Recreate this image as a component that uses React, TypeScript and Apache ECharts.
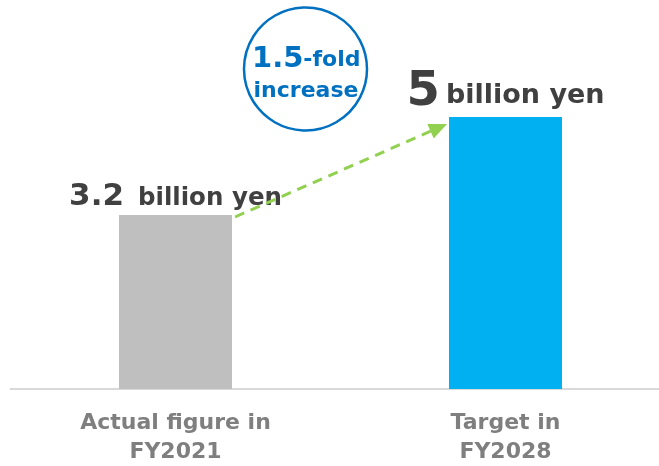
import React, { useEffect, useRef } from "react";
import * as echarts from "echarts";

const categories = ["Actual figure in\nFY2021", "Target in\nFY2028"];
const values = [3.2, 5];
const valueTexts = ["3.2", "5"];
const unitText = "billion yen";
const barColors = ["#bfbfbf", "#00b0f0"];
const badgeLines = ["1.5", "-fold", "increase"];

const FONT = "DejaVu Sans";

export default function App() {
  const ref = useRef<HTMLDivElement>(null);

  useEffect(() => {
    if (!ref.current) return;
    const chart = echarts.init(ref.current, null, { renderer: "svg" });

    // dashed growth arrow geometry
    const start = [235, 217];
    const tip = [447, 124];
    const dx = tip[0] - start[0];
    const dy = tip[1] - start[1];
    const len = Math.hypot(dx, dy);
    const ux = dx / len;
    const uy = dy / len;
    const headLen = 18;
    const headHalf = 8;
    const baseC = [tip[0] - ux * headLen, tip[1] - uy * headLen];
    const px = -uy;
    const py = ux;

    const labelSizes = [
      { a: 31, b: 24.5, pad: 14, dist: 5, lift: 1 },
      { a: 48, b: 27, pad: 6, dist: 5, lift: 5 },
    ];

    chart.setOption({
      animation: false,
      // the canvas runs past the right edge so the baseline reaches the border
      grid: { left: 10.5, width: 660, top: 117, bottom: 77, containLabel: false },
      xAxis: {
        type: "category",
        data: categories,
        axisLine: { show: true, lineStyle: { color: "#d9d9d9", width: 2 } },
        axisTick: { show: false },
        axisLabel: {
          margin: 18,
          color: "#7f7f7f",
          fontFamily: FONT,
          fontWeight: "bold",
          fontSize: 22,
          lineHeight: 29,
          interval: 0,
        },
      },
      yAxis: {
        type: "value",
        min: 0,
        max: 5,
        show: false,
        splitLine: { show: false },
      },
      series: [
        {
          type: "bar",
          barWidth: 113,
          data: values.map((v, i) => ({
            value: v,
            itemStyle: { color: barColors[i] },
            label: {
              show: true,
              position: "top",
              distance: labelSizes[i].dist,
              formatter: `{a|${valueTexts[i]}}{b|${unitText}}`,
              rich: {
                a: {
                  fontFamily: FONT,
                  fontWeight: "bold",
                  fontSize: labelSizes[i].a,
                  color: "#404040",
                  verticalAlign: "bottom",
                },
                b: {
                  fontFamily: FONT,
                  fontWeight: "bold",
                  fontSize: labelSizes[i].b,
                  color: "#404040",
                  verticalAlign: "bottom",
                  padding: [0, 0, labelSizes[i].lift, labelSizes[i].pad],
                },
              },
            },
          })),
        },
      ],
      graphic: [
        {
          type: "circle",
          shape: { cx: 305.5, cy: 69, r: 61.5 },
          style: { fill: "#ffffff", stroke: "#0070c0", lineWidth: 2.5 },
          z: 100,
        },
        {
          type: "text",
          x: 252,
          y: 71,
          style: {
            text: `{a|${badgeLines[0]}}{b|${badgeLines[1]}}`,
            textVerticalAlign: "bottom",
            rich: {
              a: {
                fontFamily: FONT,
                fontWeight: "bold",
                fontSize: 29,
                fill: "#0070c0",
                verticalAlign: "bottom",
              },
              b: {
                fontFamily: FONT,
                fontWeight: "bold",
                fontSize: 22,
                fill: "#0070c0",
                verticalAlign: "bottom",
                padding: [0, 0, 2, 0],
              },
            },
          },
          z: 101,
        },
        {
          type: "text",
          x: 306,
          y: 89,
          style: {
            text: badgeLines[2],
            fontFamily: FONT,
            fontWeight: "bold",
            fontSize: 22,
            fill: "#0070c0",
            textAlign: "center",
            textVerticalAlign: "middle",
          },
          z: 101,
        },
        {
          type: "line",
          shape: { x1: start[0], y1: start[1], x2: baseC[0], y2: baseC[1] },
          style: { stroke: "#92d050", lineWidth: 3, lineDash: [10, 7] },
          z: 100,
        },
        {
          type: "polygon",
          shape: {
            points: [
              tip,
              [baseC[0] + px * headHalf, baseC[1] + py * headHalf],
              [baseC[0] - px * headHalf, baseC[1] - py * headHalf],
            ],
          },
          style: { fill: "#92d050" },
          z: 100,
        },
      ],
    });

    return () => chart.dispose();
  }, []);

  return (
    <div
      ref={ref}
      style={{ position: "fixed", left: 0, top: 0, width: 680, height: 466 }}
    />
  );
}
